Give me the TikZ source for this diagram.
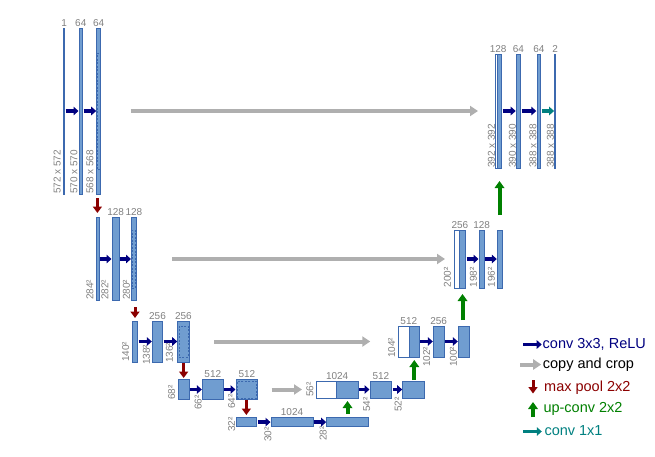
\documentclass[tikz,border=0pt]{standalone}
\usepackage{fontspec}
\setmainfont{Liberation Sans}
\usetikzlibrary{arrows.meta,fit,calc}
\definecolor{barfill}{RGB}{112,157,208}
\definecolor{barline}{RGB}{60,105,175}
\definecolor{labgray}{RGB}{128,128,128}
\definecolor{convc}{RGB}{0,0,128}
\definecolor{copyc}{RGB}{175,175,175}
\definecolor{poolc}{RGB}{139,0,0}
\definecolor{upc}{RGB}{0,128,0}
\definecolor{onec}{RGB}{0,128,128}
\begin{document}
\begin{tikzpicture}[x=1pt,y=-1pt,
  bar/.style={draw=barline, fill=barfill, line width=0.8pt, inner sep=0pt, outer sep=0pt},
  whitebar/.style={bar, fill=white},
  cropbox/.style={draw=barline, line width=0.5pt, dash pattern=on 2pt off 1.5pt, inner sep=0pt, outer sep=0pt},
  chanlab/.style={anchor=south, inner sep=0pt, yshift=1.5pt, text=labgray, font=\fontsize{10}{12}\selectfont},
  sizelab/.style={rotate=90, anchor=west, inner sep=0pt, text=labgray, font=\fontsize{10}{12}\selectfont},
  legtext/.style={anchor=west, inner sep=0pt, font=\fontsize{14.5}{17}\selectfont, text height=10.5pt, text depth=3pt},
  convarr/.style={draw=convc, line width=3.5pt, -{Triangle[length=5pt,width=8.5pt]}},
  onearr/.style={draw=onec, line width=3.5pt, -{Triangle[length=5pt,width=8.5pt]}},
  copyarr/.style={draw=copyc, line width=4pt, -{Triangle[length=8pt,width=10pt]}},
  poolarr/.style={draw=poolc, line width=3pt, -{Triangle[length=6.5pt,width=9pt]}},
  uparr/.style={draw=upc, line width=4pt, -{Triangle[length=7pt,width=9.5pt]}}
]
\useasboundingbox (0,0) rectangle (655,456);

% ---------- level 1 left
\node[bar, fit={(63.7,28)(64.5,194)}] (A1) {};
\node[bar, fit={(79,28)(82.5,194)}] (A2) {};
\node[bar, fit={(96.7,28)(100.7,194)}] (A3) {};
\node[cropbox, fit={(97.6,53)(99.8,169)}] (xA3) {};
% ---------- level 2 left
\node[bar, fit={(95.9,217.5)(98.9,300.5)}] (B1) {};
\node[bar, fit={(112,217.5)(119.3,300.5)}] (B2) {};
\node[bar, fit={(131.5,217.5)(136.3,300.5)}] (B3) {};
\node[cropbox, fit={(132.4,230)(135.4,288)}] (xB3) {};
% ---------- level 3 left
\node[bar, fit={(132.3,321)(137.7,362)}] (D1) {};
\node[bar, fit={(152.3,321)(162.7,362)}] (D2) {};
\node[bar, fit={(177.7,321)(189,362)}] (D3) {};
\node[cropbox, fit={(178.8,326)(187.9,357)}] (xD3) {};
% ---------- level 4 left
\node[bar, fit={(178.3,379.5)(189,399.5)}] (F1) {};
\node[bar, fit={(202.3,379.5)(223.3,399.5)}] (F2) {};
\node[bar, fit={(236,379.5)(257.7,399.5)}] (F3) {};
\node[cropbox, fit={(237.2,381.2)(256.5,397.8)}] (xF3) {};
% ---------- level 5
\node[bar, fit={(236,417.5)(256.7,426.7)}] (H1) {};
\node[bar, fit={(271,417.5)(313,426.7)}] (H2) {};
\node[bar, fit={(326.7,417.5)(368.3,426.7)}] (H3) {};
% ---------- level 4 right
\node[whitebar, fit={(316,381)(336.7,398)}] (G1w) {};
\node[bar, fit={(336.7,381)(358.3,398)}] (G1b) {};
\node[bar, fit={(370,381)(391.7,398)}] (G2) {};
\node[bar, fit={(402.7,381)(424,398)}] (G3) {};
% ---------- level 3 right
\node[whitebar, fit={(398.3,326)(409.3,357)}] (E1w) {};
\node[bar, fit={(409.3,326)(419.3,357)}] (E1b) {};
\node[bar, fit={(433.3,326)(444,357)}] (E2) {};
\node[bar, fit={(458.3,326)(469,357)}] (E3) {};
% ---------- level 2 right
\node[whitebar, fit={(454,230)(459.3,288)}] (C1w) {};
\node[bar, fit={(459.3,230)(465.7,288)}] (C1b) {};
\node[bar, fit={(479,230)(484.3,288)}] (C2) {};
\node[bar, fit={(497.3,230)(502.3,288)}] (C3) {};
% ---------- level 1 right
\node[whitebar, fit={(495,54)(497.8,168)}] (R1w) {};
\node[bar, fit={(497.8,54)(501.2,168)}] (R1b) {};
\node[bar, fit={(516.7,54)(520,168)}] (R2) {};
\node[bar, fit={(537.3,54)(540.5,168)}] (R3) {};
\node[bar, fit={(554.8,54)(555.6,168)}] (R4) {};

% ---------- channel labels
\node[chanlab] (cA1) at (A1.north) {1};
\node[chanlab] (cA2) at (A2.north) {64};
\node[chanlab] (cA3) at (A3.north) {64};
\node[chanlab] (cB2) at (B2.north) {128};
\node[chanlab] (cB3) at (B3.north) {128};
\node[chanlab] (cD2) at (D2.north) {256};
\node[chanlab] (cD3) at (D3.north) {256};
\node[chanlab] (cF2) at (F2.north) {512};
\node[chanlab] (cF3) at (F3.north) {512};
\node[chanlab] (cH2) at (H2.north) {1024};
\node[chanlab] (cG1) at ($(G1w.north west)!0.5!(G1b.north east)$) {1024};
\node[chanlab] (cG2) at (G2.north) {512};
\node[chanlab] (cE1) at ($(E1w.north west)!0.5!(E1b.north east)$) {512};
\node[chanlab] (cE2) at (E2.north) {256};
\node[chanlab] (cC1) at ($(C1w.north west)!0.5!(C1b.north east)$) {256};
\node[chanlab] (cC2) at (C2.north) {128};
\node[chanlab] (cR1) at ($(R1w.north west)!0.5!(R1b.north east)$) {128};
\node[chanlab] (cR2) at (R2.north) {64};
\node[chanlab] (cR3) at (R3.north) {64};
\node[chanlab] (cR4) at (R4.north) {2};

% ---------- size labels
\node[sizelab] (sA1) at (57.3,194) {572 x 572};
\node[sizelab] (sA2) at (74,194) {570 x 570};
\node[sizelab] (sA3) at (90,194) {568 x 568};
\node[sizelab] (sR1) at (491.5,168) {392 x 392};
\node[sizelab] (sR2) at (512.5,168) {390 x 390};
\node[sizelab] (sR3) at (533,168) {388 x 388};
\node[sizelab] (sR4) at (550.5,168) {388 x 388};
\node[sizelab] (sB1) at (90,300) {284²};
\node[sizelab] (sB2) at (105,300) {282²};
\node[sizelab] (sB3) at (126.5,300) {280²};
\node[sizelab] (sC1) at (447.5,287.5) {200²};
\node[sizelab] (sC2) at (473.5,287.5) {198²};
\node[sizelab] (sC3) at (491.5,287.5) {196²};
\node[sizelab] (sD1) at (125.7,362) {140²};
\node[sizelab] (sD2) at (146.5,365) {138²};
\node[sizelab] (sD3) at (169.5,363) {136²};
\node[sizelab] (sE1) at (391.7,358) {104²};
\node[sizelab] (sE2) at (426.7,367) {102²};
\node[sizelab] (sE3) at (453.3,367) {100²};
\node[sizelab] (sF1) at (171.7,400) {68²};
\node[sizelab] (sF2) at (198.3,410) {66²};
\node[sizelab] (sF3) at (231.7,409) {64²};
\node[sizelab] (sG1) at (310,397) {56²};
\node[sizelab] (sG2) at (366.7,412) {54²};
\node[sizelab] (sG3) at (398.3,412) {52²};
\node[sizelab] (sH1) at (231.7,432) {32²};
\node[sizelab] (sH2) at (268,442) {30²};
\node[sizelab] (sH3) at (323.3,441) {28²};

% ---------- conv 3x3 arrows
\draw[convarr, shorten <=1pt, shorten >=0.5pt] (A1.east) -- (A2.west);
\draw[convarr, shorten <=1pt, shorten >=0.5pt] (A2.east) -- (A3.west);
\draw[convarr, shorten <=1pt, shorten >=0.5pt] (B1.east) -- (B2.west);
\draw[convarr, shorten <=1pt, shorten >=0.5pt] (B2.east) -- (B3.west);
\draw[convarr, shorten <=1pt, shorten >=0.5pt] (D1.east) -- (D2.west);
\draw[convarr, shorten <=1pt, shorten >=0.5pt] (D2.east) -- (D3.west);
\draw[convarr, shorten <=1pt, shorten >=0.5pt] (F1.east) -- (F2.west);
\draw[convarr, shorten <=1pt, shorten >=0.5pt] (F2.east) -- (F3.west);
\draw[convarr, shorten <=1pt, shorten >=0.5pt] (H1.east) -- (H2.west);
\draw[convarr, shorten <=1pt, shorten >=0.5pt] (H2.east) -- (H3.west);
\draw[convarr, shorten <=1pt, shorten >=0.5pt] (G1b.east) -- (G2.west);
\draw[convarr, shorten <=1pt, shorten >=0.5pt] (G2.east) -- (G3.west);
\draw[convarr, shorten <=1pt, shorten >=0.5pt] (E1b.east) -- (E2.west);
\draw[convarr, shorten <=1pt, shorten >=0.5pt] (E2.east) -- (E3.west);
\draw[convarr, shorten <=1pt, shorten >=0.5pt] (C1b.east) -- (C2.west);
\draw[convarr, shorten <=1pt, shorten >=0.5pt] (C2.east) -- (C3.west);
\draw[convarr, shorten <=1.5pt, shorten >=1pt] (R1b.east) -- (R2.west);
\draw[convarr, shorten <=1.5pt, shorten >=1pt] (R2.east) -- (R3.west);
\draw[onearr, shorten <=1.5pt, shorten >=0.6pt] (R3.east) -- (R4.west);

% ---------- copy and crop
\draw[copyarr, shorten <=30pt, shorten >=17pt] (A3.east) -- (A3.east -| R1w.west);
\draw[copyarr, shorten <=36pt, shorten >=9pt] (B3.east) -- (B3.east -| C1w.west);
\draw[copyarr, shorten <=25pt, shorten >=28pt] (D3.east) -- (D3.east -| E1w.west);
\draw[copyarr, shorten <=14pt, shorten >=14pt] (F3.east) -- (F3.east -| G1w.west);

% ---------- max pool
\draw[poolarr, shorten <=4pt, shorten >=4.5pt] (A3.south -| B1.north) -- (B1.north);
\draw[poolarr, shorten <=6.5pt, shorten >=3pt] (B3.south -| D1.north) -- (D1.north);
\draw[poolarr, shorten <=1pt, shorten >=1.5pt] (D3.south -| F1.north) -- (F1.north);
\draw[poolarr, shorten <=0.8pt, shorten >=2.5pt] (F3.south -| H1.north) -- (H1.north);

% ---------- up-conv
\draw[uparr, shorten <=3.5pt, shorten >=3pt] (H3.north -| G1b.south) -- (G1b.south);
\draw[uparr, shorten <=1pt, shorten >=3pt] (G3.north -| E1b.south) -- (E1b.south);
\draw[uparr, shorten <=6pt, shorten >=6pt] (E3.north -| C1b.south) -- (C1b.south);
\draw[uparr, shorten <=15pt, shorten >=13pt] (C3.north -| R1b.south) -- (R1b.south);

% ---------- legend
\node[legtext, text=convc] (t1) at (542.5,344.5) {conv 3x3, ReLU};
\node[legtext, text=black] (t2) at (542.7,364.5) {copy and crop};
\node[legtext, text=poolc] (t3) at (544,387.5) {max pool 2x2};
\node[legtext, text=upc] (t4) at (543.3,408.5) {up-conv 2x2};
\node[legtext, text=onec] (t5) at (544.3,431.5) {conv 1x1};
\coordinate (l1) at (523,344.5);
\coordinate (l2) at (520,364.5);
\coordinate (l3a) at (533,380);
\coordinate (l3b) at (533,393.5);
\coordinate (l4a) at (533,417);
\coordinate (l4b) at (533,402);
\coordinate (l5) at (523,431.5);
\draw[convarr, shorten >=0.8pt] (l1) -- (t1.west);
\draw[copyarr, shorten >=1.5pt] (l2) -- (t2.west);
\draw[poolarr] (l3a) -- (l3b);
\draw[uparr] (l4a) -- (l4b);
\draw[onearr, shorten >=2.5pt] (l5) -- (t5.west);
\end{tikzpicture}
\end{document}
